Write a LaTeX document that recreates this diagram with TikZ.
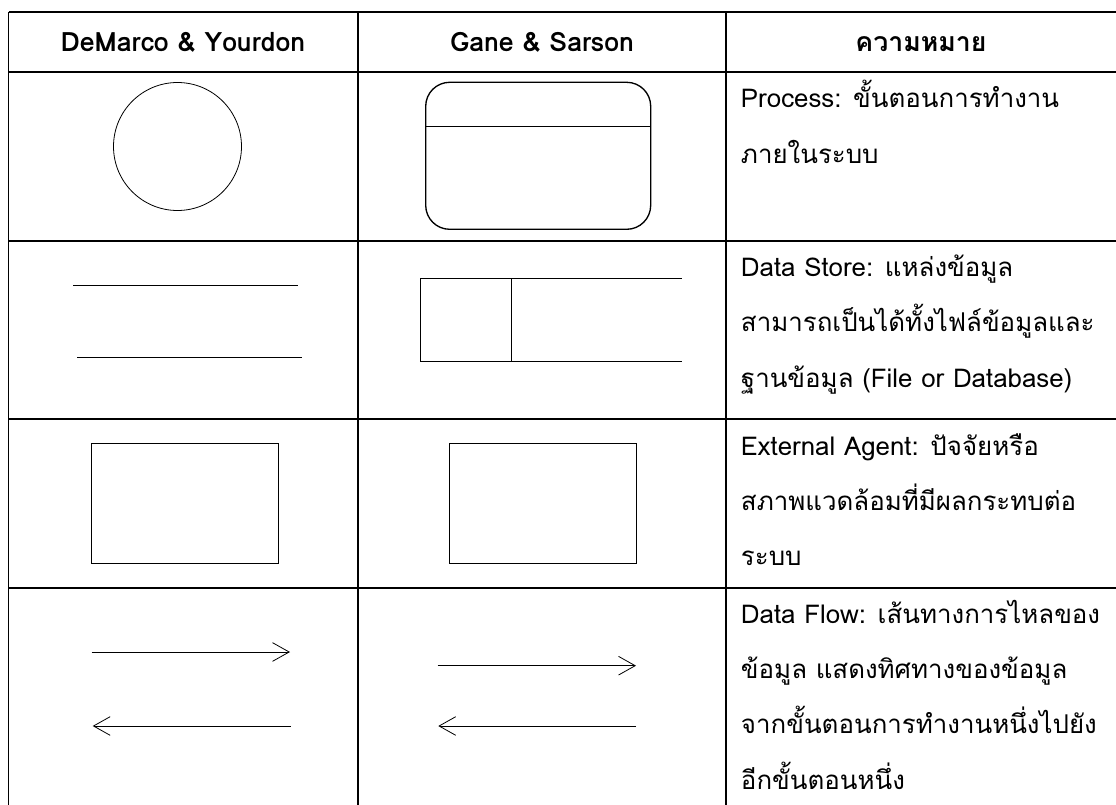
\documentclass[tikz,border=0pt]{standalone}
\usepackage{fontspec}
\setmainfont{Loma}[Script=Thai]
\usetikzlibrary{arrows.meta}
\tikzset{
  grid/.style={line width=1.4pt},
  symbol/.style={line width=0.6pt},
  flow/.style={symbol,-{Straight Barb[length=12.5pt,width=14pt]}},
  head/.style={font=\fontsize{20}{22}\selectfont\bfseries,anchor=base,inner sep=0pt},
  % anchor base west sits on the last line of the block
  desc/.style={font=\fontsize{19.4}{41.5}\selectfont,align=left,anchor=base west,inner sep=0pt}
}

\begin{document}
\begin{tikzpicture}[x=0.75pt,y=-0.75pt]
  \useasboundingbox (0,0) rectangle (1116,805);
  % table rules
  \foreach \y in {12.3,71.7,241,418.7,587.7}
    \draw[grid] (8.5,\y) -- (1116,\y);
  \foreach \x in {8.5,358.3,726}
    \draw[grid] (\x,12.3) -- (\x,805);
  % header
  \node[head] (hdemarco) at (183,51.7) {DeMarco \& Yourdon};
  \node[head] (hgane) at (542,51.7) {Gane \& Sarson};
  \node[head] (hmeaning) at (921,51.7) {ความหมาย};
  % process
  \draw[symbol] (177.5,146.5) circle (64);
  \draw[symbol,line width=1pt,rounded corners=18pt] (425.7,82.3) rectangle (650.7,229.3);
  \draw[symbol] (425.7,126.7) -- (650.7,126.7);
  % data store
  \draw[symbol] (73,285) -- (297.7,285);
  \draw[symbol] (77,357) -- (302.3,357);
  \draw[symbol] (681.7,278.3) -- (420,278.3) -- (420,361) -- (681.7,361);
  \draw[symbol] (511.7,278.3) -- (511.7,361);
  % external agent
  \draw[symbol] (91.3,443.7) rectangle (278.7,563);
  \draw[symbol] (449.3,443.7) rectangle (636.7,563);
  % data flow
  \draw[flow] (91.7,652) -- (290,652);
  \draw[flow] (290.7,726) -- (92.7,726);
  \draw[flow] (437.7,665.7) -- (636,665.7);
  \draw[flow] (636,726) -- (438.3,726);
  % meaning
  \node[desc] (dprocess) at (740.7,163.3) {Process: ขั้นตอนการทำงาน\\ภายในระบบ};
  \node[desc] (dstore) at (740.7,387.3) {Data Store: แหล่งข้อมูล\\สามารถเป็นได้ทั้งไฟล์ข้อมูลและ\\ฐานข้อมูล (File or Database)};
  \node[desc] (dagent) at (740.7,565.7) {External Agent: ปัจจัยหรือ\\สภาพแวดล้อมที่มีผลกระทบต่อ\\ระบบ};
  \node[desc] (dflow) at (740.7,789) {Data Flow: เส้นทางการไหลของ\\ข้อมูล แสดงทิศทางของข้อมูล\\จากขั้นตอนการทำงานหนึ่งไปยัง\\อีกขั้นตอนหนึ่ง};
\end{tikzpicture}
\end{document}
